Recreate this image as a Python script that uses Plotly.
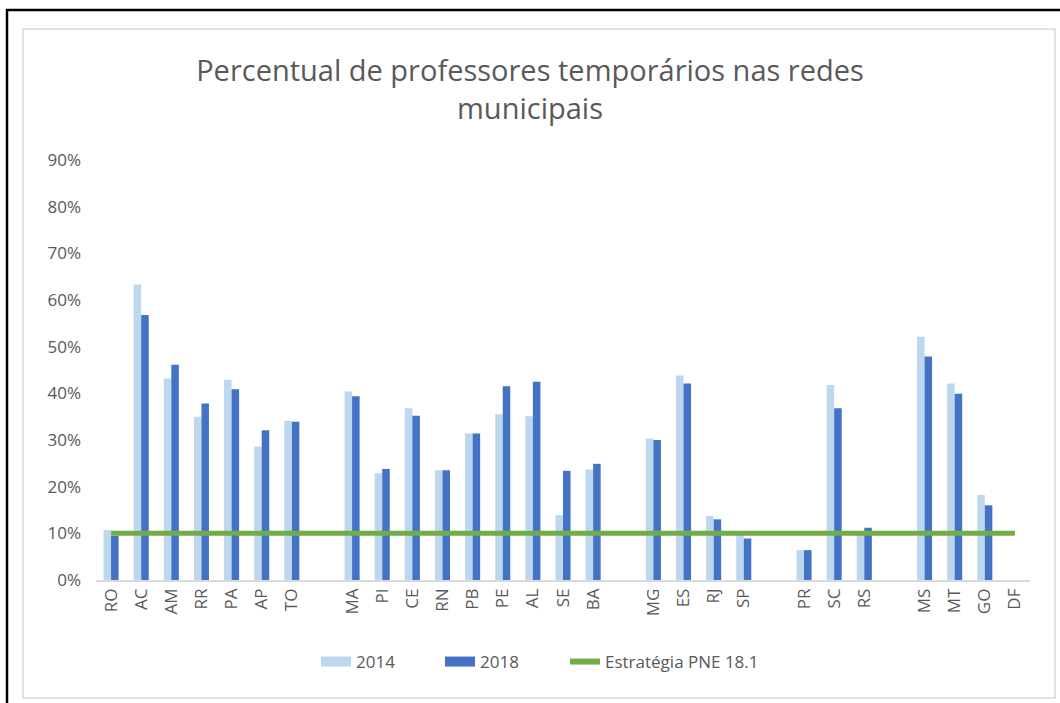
import plotly.graph_objects as go

states = ["RO", "AC", "AM", "RR", "PA", "AP", "TO", " ",
          "MA", "PI", "CE", "RN", "PB", "PE", "AL", "SE", "BA", "  ",
          "MG", "ES", "RJ", "SP", "   ",
          "PR", "SC", "RS", "    ",
          "MS", "MT", "GO", "DF"]

v2014 = [10.7, 63.3, 43.2, 35.0, 42.9, 28.6, 34.1, None,
         40.4, 22.9, 36.8, 23.5, 31.4, 35.5, 35.1, 13.9, 23.7, None,
         30.3, 43.8, 13.7, 9.9, None,
         6.4, 41.8, 10.0, None,
         52.1, 42.1, 18.2, None]

v2018 = [9.5, 56.8, 46.1, 37.8, 40.9, 32.1, 33.9, None,
         39.4, 23.8, 35.2, 23.5, 31.4, 41.5, 42.5, 23.4, 24.9, None,
         30.0, 42.1, 13.0, 8.9, None,
         6.4, 36.8, 11.2, None,
         47.9, 39.9, 16.0, None]

meta = [10] * len(states)

y_ticks = [0, 10, 20, 30, 40, 50, 60, 70, 80, 90]
y_labels = [f"{v}%" for v in y_ticks]

TXT = "#595959"
FONT = "Open Sans"
C14, C18, CG = "#BDD7EE", "#4472C4", "#70AD47"

fig = go.Figure()
fig.add_trace(go.Bar(x=states, y=v2014, name="2014", showlegend=False,
                     marker=dict(color=C14, line=dict(width=0))))
fig.add_trace(go.Bar(x=states, y=v2018, name="2018", showlegend=False,
                     marker=dict(color=C18, line=dict(width=0))))
fig.add_trace(go.Scatter(x=states, y=meta, name="Estratégia PNE 18.1", mode="lines",
                         showlegend=False, line=dict(color=CG, width=5)))
# legend entries (wide swatches like the original), each in its own legend box
fig.add_trace(go.Scatter(x=[None], y=[None], name="2014", mode="lines", legend="legend",
                         line=dict(color=C14, width=10)))
fig.add_trace(go.Scatter(x=[None], y=[None], name="2018", mode="lines", legend="legend2",
                         line=dict(color=C18, width=10)))
fig.add_trace(go.Scatter(x=[None], y=[None], name="Estratégia PNE 18.1", mode="lines",
                         legend="legend3", line=dict(color=CG, width=6)))

# plot area in pixels: x 96..1030, y 160..580
L, R, T, B = 96, 1030, 160, 580
W, H = R - L, B - T

def px(x):
    return (x - L) / W

def py(y):
    return (B - y) / H

def leg(xpix):
    return dict(orientation="h", x=px(xpix), xanchor="left", y=py(662), yanchor="middle",
                font=dict(family=FONT, size=17, color=TXT), itemwidth=30,
                bgcolor="rgba(0,0,0,0)", borderwidth=0)

fig.update_layout(
    width=1060, height=703,
    margin=dict(l=L, r=1060 - R, t=T, b=703 - B),
    paper_bgcolor="white", plot_bgcolor="white",
    barmode="group", bargap=0.5, bargroupgap=0,
    title=dict(text="Percentual de professores temporários nas redes<br>municipais",
               x=0.5, xanchor="center", y=1 - 81 / 703, yanchor="middle",
               font=dict(family=FONT, size=29, color=TXT)),
    font=dict(family=FONT, color=TXT),
    showlegend=True,
    legend=leg(316),
    legend2=leg(440),
    legend3=leg(565),
    xaxis=dict(type="category", categoryorder="array", categoryarray=states,
               tickangle=-90, tickfont=dict(family=FONT, size=17, color=TXT),
               showline=True, linecolor="#D9D9D9", linewidth=1.5, ticks="",
               showgrid=False, zeroline=False),
    yaxis=dict(range=[0, 90], tickvals=y_ticks, ticktext=y_labels,
               tickfont=dict(family=FONT, size=17, color=TXT),
               showgrid=False, zeroline=False, showline=False, ticks="",
               ticklabelstandoff=14),
    shapes=[
        dict(type="rect", xref="paper", yref="paper",
             x0=px(7), x1=px(1075), y0=py(10), y1=py(720),
             line=dict(color="black", width=2.5), fillcolor="rgba(0,0,0,0)", layer="below"),
        dict(type="rect", xref="paper", yref="paper",
             x0=px(23), x1=px(1055), y0=py(29), y1=py(698),
             line=dict(color="#D9D9D9", width=1.5), fillcolor="rgba(0,0,0,0)", layer="below"),
    ],
)

fig.write_html("out.html", config={"displayModeBar": False},
               post_script="document.body.style.margin='0';document.body.style.overflow='hidden';")
